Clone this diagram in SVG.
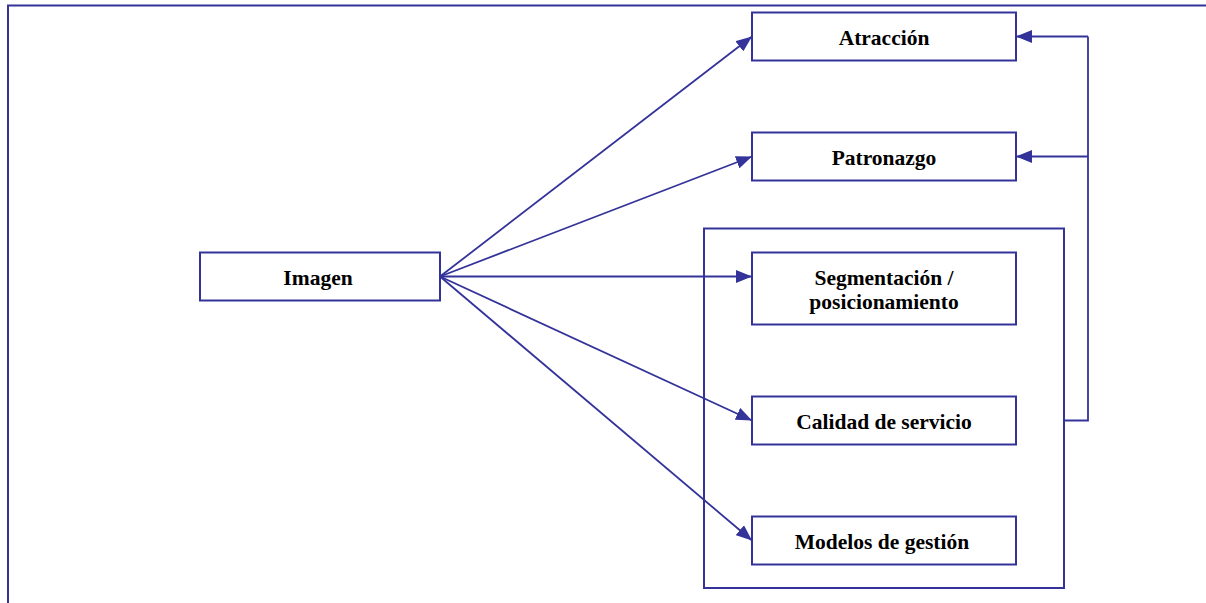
<svg xmlns="http://www.w3.org/2000/svg" width="1206" height="603" viewBox="0 0 1206 603">
  <style>
    .box { fill: #ffffff; stroke: #333399; stroke-width: 2; }
    .frame { fill: none; stroke: #333399; stroke-width: 2; }
    .lbl { font-family: "Liberation Serif", "Times New Roman", serif; font-weight: bold; font-size: 21.5px; fill: #000000; text-anchor: middle; }
    .conn { fill: none; stroke: #333399; stroke-width: 1.8; }
  </style>
  <defs>
    <marker id="arrow" viewBox="0 0 16 13" refX="16" refY="6.5" markerWidth="16" markerHeight="13" markerUnits="userSpaceOnUse" orient="auto">
      <path d="M0,0 L16,6.5 L0,13 Z" fill="#333399"/>
    </marker>
  </defs>

  <rect width="1206" height="603" fill="#ffffff"/>

  <!-- outer page frame -->
  <path class="frame" d="M1206,5.5 H8 V603"/>

  <!-- grouping frame around the lower three items -->
  <g id="group-frame">
    <rect class="frame" x="704" y="228.5" width="360" height="359.5"/>
  </g>

  <g id="node-imagen">
    <rect class="box" x="200" y="252.5" width="240" height="48"/>
    <text class="lbl" x="318" y="284.5">Imagen</text>
  </g>

  <g id="node-atraccion">
    <rect class="box" x="752" y="12.5" width="264" height="48"/>
    <text class="lbl" x="884" y="45">Atracción</text>
  </g>

  <g id="node-patronazgo">
    <rect class="box" x="752" y="132.5" width="264" height="48"/>
    <text class="lbl" x="884" y="165">Patronazgo</text>
  </g>

  <g id="node-segmentacion">
    <rect class="box" x="752" y="252.5" width="264" height="72"/>
    <text class="lbl" x="884" y="285">Segmentación /</text>
    <text class="lbl" x="884" y="308.5">posicionamiento</text>
  </g>

  <g id="node-calidad">
    <rect class="box" x="752" y="396.5" width="264" height="48"/>
    <text class="lbl" x="884" y="429">Calidad de servicio</text>
  </g>

  <g id="node-modelos">
    <rect class="box" x="752" y="516.5" width="264" height="48"/>
    <text class="lbl" x="882" y="549">Modelos de gestión</text>
  </g>

  <g id="connectors">
    <line class="conn" x1="440" y1="276.5" x2="752" y2="36.5" marker-end="url(#arrow)"/>
    <line class="conn" x1="440" y1="276.5" x2="752" y2="156.5" marker-end="url(#arrow)"/>
    <line class="conn" x1="440" y1="276.5" x2="752" y2="276.5" marker-end="url(#arrow)"/>
    <line class="conn" x1="440" y1="276.5" x2="752" y2="420.5" marker-end="url(#arrow)"/>
    <line class="conn" x1="440" y1="276.5" x2="752" y2="540.5" marker-end="url(#arrow)"/>
    <!-- feedback from the grouping frame to Atracción and Patronazgo -->
    <path class="conn" d="M1064,420.5 H1088 V36.5"/>
    <line class="conn" x1="1088" y1="36.5" x2="1016" y2="36.5" marker-end="url(#arrow)"/>
    <line class="conn" x1="1088" y1="156.5" x2="1016" y2="156.5" marker-end="url(#arrow)"/>
  </g>
</svg>
